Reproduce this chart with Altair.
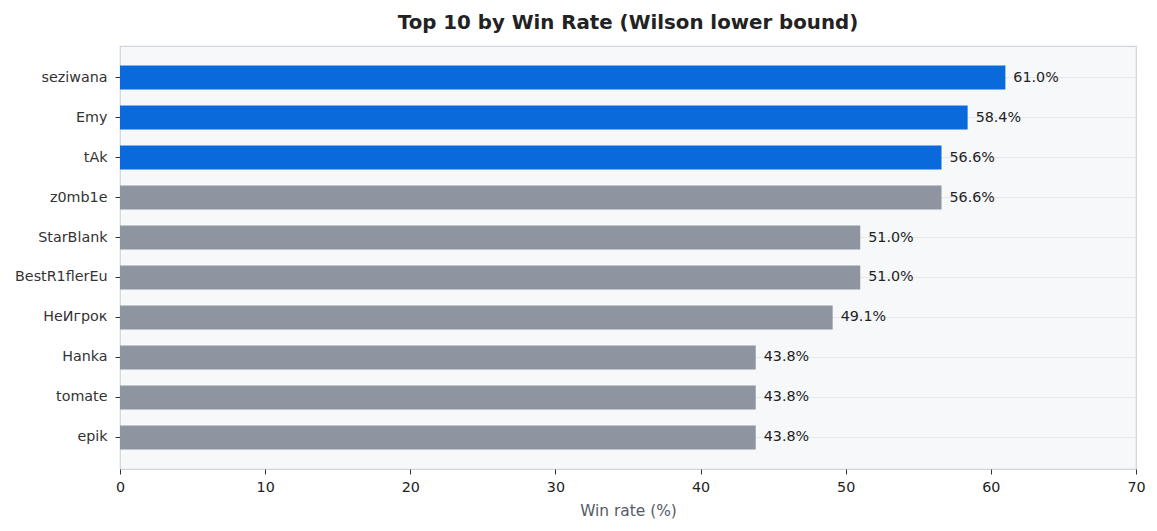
import altair as alt
import pandas as pd

players = ["seziwana", "Emy", "tAk", "z0mb1e", "StarBlank",
           "BestR1flerEu", "НеИгрок", "Hanka", "tomate", "epik"]
win_rate = [61.0, 58.4, 56.6, 56.6, 51.0, 51.0, 49.1, 43.8, 43.8, 43.8]
highlight = [True, True, True, False, False, False, False, False, False, False]

df = pd.DataFrame({"player": players, "win_rate": win_rate, "top": highlight})
df["label"] = df["win_rate"].map(lambda v: f"{v:.1f}%")

font = "DejaVu Sans"

base = alt.Chart(df).encode(
    y=alt.Y("player:N", sort=players, title=None,
            scale=alt.Scale(paddingInner=0.4, paddingOuter=0.49),
            axis=alt.Axis(grid=True, gridColor="#e6e9ef", gridWidth=1,
                          bandPosition=0.5, domain=False,
                          tickColor="#333333", tickSize=5, labelPadding=8,
                          labelFontSize=14.3, labelColor="#333333", labelFont=font)),
)

bars = base.mark_bar().encode(
    x=alt.X("win_rate:Q", title="Win rate (%)",
            scale=alt.Scale(domain=[0, 70], nice=False),
            axis=alt.Axis(values=list(range(0, 71, 10)), grid=False, domain=False,
                          labelFlush=False,
                          tickColor="#333333", tickSize=5, labelPadding=6,
                          labelFontSize=14.3, labelColor="#222222", labelFont=font,
                          titleFontSize=15.4, titleColor="#555b66", titleFont=font,
                          titleFontWeight="normal", titlePadding=9)),
    color=alt.Color("top:N", scale=alt.Scale(domain=[True, False],
                                             range=["#0a6adb", "#8e95a0"]),
                    legend=None),
)

labels = base.mark_text(align="left", baseline="middle", dx=8, fontSize=14.3,
                        font=font, color="#222222").encode(
    x="win_rate:Q",
    text="label:N",
)

chart = (bars + labels).properties(
    width=1016,
    height=423,
    autosize=alt.AutoSizeParams(type="none"),
    padding={"left": 112, "top": 38, "right": 13, "bottom": 54},
    title=alt.TitleParams("Top 10 by Win Rate (Wilson lower bound)", fontSize=19.8,
                          font=font, fontWeight="bold", color="#222222",
                          anchor="middle", offset=13),
).configure_view(
    fill="#f7f8fa", stroke="#d0d5dd", strokeWidth=1.2,
)

chart.save("out.html", embed_options={"renderer": "svg", "actions": False})
